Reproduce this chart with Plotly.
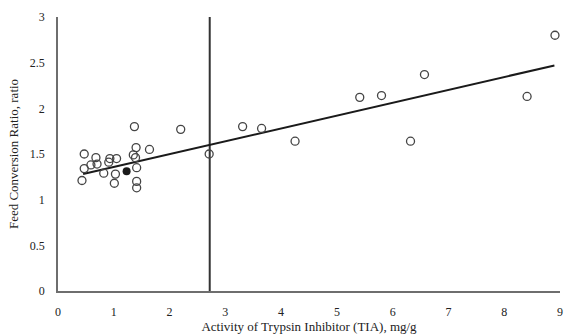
import plotly.graph_objects as go

tia = [0.47, 0.68, 0.93, 1.05, 0.47, 0.59, 0.70, 0.91, 0.82, 1.03, 0.43, 1.01,
       1.37, 1.40, 1.64, 1.35, 1.39, 1.41, 1.41, 1.41, 2.20, 2.71, 3.31, 3.65,
       4.25, 5.41, 5.80, 6.32, 6.57, 8.41, 8.91]
fcr = [1.50, 1.46, 1.45, 1.45, 1.34, 1.38, 1.39, 1.41, 1.29, 1.28, 1.21, 1.18,
       1.80, 1.57, 1.55, 1.49, 1.46, 1.35, 1.20, 1.13, 1.77, 1.50, 1.80, 1.78,
       1.64, 2.12, 2.14, 1.64, 2.37, 2.13, 2.80]
filled_x = [1.23]
filled_y = [1.31]
trend_x = [0.45, 8.9]
trend_y = [1.28, 2.47]
threshold_x = [2.72, 2.72]
threshold_y = [0, 3]

fig = go.Figure()
fig.add_trace(go.Scatter(x=threshold_x, y=threshold_y, mode="lines",
                         line=dict(color="#333333", width=2), hoverinfo="skip"))
fig.add_trace(go.Scatter(x=trend_x, y=trend_y, mode="lines",
                         line=dict(color="#1a1a1a", width=2)))
fig.add_trace(go.Scatter(x=tia, y=fcr, mode="markers",
                         marker=dict(symbol="circle-open", size=8,
                                     color="#444444", line=dict(width=1.3))))
fig.add_trace(go.Scatter(x=filled_x, y=filled_y, mode="markers",
                         marker=dict(symbol="circle", size=8, color="#1a1a1a")))

font_family = "Liberation Serif"
fig.update_layout(
    width=571, height=335,
    margin=dict(l=58, r=11, t=17, b=44),
    paper_bgcolor="white", plot_bgcolor="white",
    showlegend=False,
    font=dict(family=font_family, color="#222222", size=12),
    xaxis=dict(range=[0, 9], tickvals=list(range(10)), showgrid=False,
               zeroline=False, showline=True, linecolor="#6e6e6e", linewidth=1.5,
               ticks="outside", ticklen=9, tickcolor="rgba(0,0,0,0)",
               automargin=False,
               title=dict(text="Activity of Trypsin Inhibitor (TIA), mg/g",
                          font=dict(size=13, family=font_family), standoff=4)),
    yaxis=dict(range=[0, 3], tickvals=[0, 0.5, 1, 1.5, 2, 2.5, 3], showgrid=False,
               zeroline=False, showline=True, linecolor="#6e6e6e", linewidth=1.5,
               ticks="outside", ticklen=9, tickcolor="rgba(0,0,0,0)",
               automargin=False,
               title=dict(text="Feed Conversion Ratio, ratio",
                          font=dict(size=13, family=font_family), standoff=8)),
)
fig.write_html("out.html")
